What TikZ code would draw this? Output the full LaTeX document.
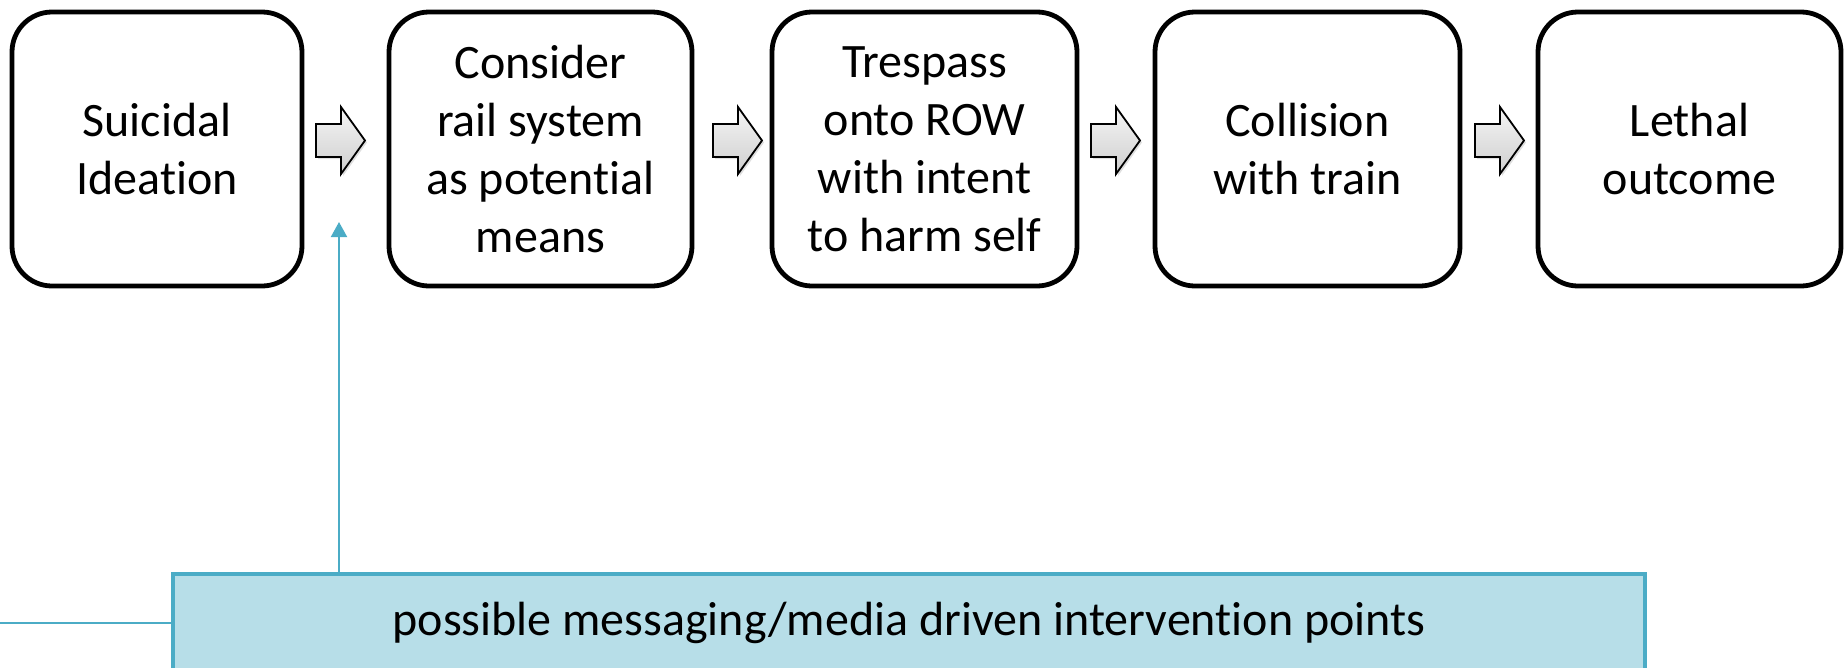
\documentclass[tikz,border=0pt]{standalone}
\usepackage{fontspec}
\setmainfont[Ligatures=NoCommon]{Carlito}
\usetikzlibrary{arrows.meta,shadows}
\definecolor{aqua}{HTML}{4BACC6}
\definecolor{aquafill}{HTML}{B7DEE8}
\tikzset{
  stepbox/.style={draw=black, line width=4.8pt, rounded corners=40pt, fill=white,
    minimum height=274pt, align=center, inner sep=0pt,
    font=\fontsize{48}{58}\selectfont},
  blockarrow/.style={draw=black, line width=1.8pt, line join=miter,
    top color=gray!8, bottom color=gray!38,
    drop shadow={opacity=0.25, shadow xshift=2pt, shadow yshift=-2pt}},
  bluebox/.style={draw=aqua, line width=3.5pt, fill=aquafill, minimum width=1472pt,
    minimum height=98pt, inner sep=0pt, font=\fontsize{48}{58}\selectfont},
  blueline/.style={draw=aqua, line width=2pt}
}
\begin{document}
\begin{tikzpicture}[x=1pt,y=-1pt]
\useasboundingbox (0,0) rectangle (1845,667);
\clip (0,0) rectangle (1845,667);
\node[stepbox, minimum width=290pt] (b1) at (157,149) {Suicidal\\Ideation};
\node[stepbox, minimum width=303pt] (b2) at (540.5,149) {Consider\\rail system\\as potential\\means};
\node[stepbox, minimum width=305pt] (b3) at (924.5,149) {Trespass\\onto ROW\\with intent\\to harm self};
\node[stepbox, minimum width=305pt] (b4) at (1307.5,149) {Collision\\with train};
\node[stepbox, minimum width=303pt] (b5) at (1689.5,149) {Lethal\\outcome};
\foreach \ax in {316,713,1091,1475}{
  \path[blockarrow] (\ax,124) -- ++(25,0) -- ++(0,-17) -- ++(24,33.5) -- ++(-24,33.5) -- ++(0,-17) -- ++(-25,0) -- cycle;
}
\node[bluebox] (bot) at (909,623) {possible messaging/media driven intervention points};
\coordinate (up) at (339,222);
\coordinate (lend) at (0,623);
\draw[blueline, -{Triangle[length=15pt,width=16pt]}] (bot.north -| up) -- (up);
\draw[blueline] (bot.west) -- (lend);
\end{tikzpicture}
\end{document}
